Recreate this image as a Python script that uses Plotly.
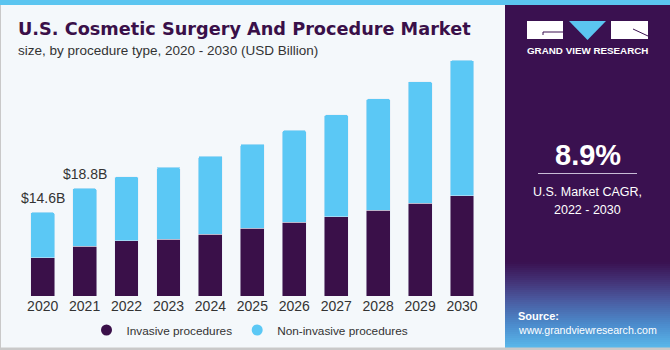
import plotly.graph_objects as go

years = ["2020", "2021", "2022", "2023", "2024", "2025", "2026", "2027", "2028", "2029", "2030"]
invasive = [6.7, 8.7, 9.6, 9.9, 10.8, 11.8, 12.9, 13.8, 15.0, 16.2, 17.5]
non_invasive = [7.9, 10.1, 11.2, 12.6, 13.6, 14.7, 16.0, 17.8, 19.4, 21.2, 23.6]
total_labels = {"2020": "$14.6B", "2021": "$18.8B"}

DARK = "#3a1049"
LIGHT = "#5bc8f5"
BG = "#f4f8fb"
W, H = 670, 350

def px(x):
    return x / W

def py(y):
    return 1 - y / H

fig = go.Figure()
fig.add_trace(go.Bar(x=years, y=invasive, name="Invasive procedures",
                     marker=dict(color=DARK), showlegend=False))
fig.add_trace(go.Bar(x=years, y=non_invasive, name="Non-invasive procedures",
                     marker=dict(color=LIGHT), showlegend=False))
# legend markers (circles)
fig.add_trace(go.Scatter(x=[years[0]], y=[None], mode="markers", name="Invasive procedures",
                         marker=dict(color=DARK, size=11, symbol="circle")))
fig.add_trace(go.Scatter(x=[years[0]], y=[None], mode="markers", name="Non-invasive procedures",
                         marker=dict(color=LIGHT, size=11, symbol="circle")))

annotations = []
for yr, lab in total_labels.items():
    i = years.index(yr)
    annotations.append(dict(x=i, y=invasive[i] + non_invasive[i], text=lab, showarrow=False,
                            yshift=14, font=dict(size=14, color="#333333", family="Liberation Sans")))

annotations += [
    dict(x=px(16), y=py(29), xref="paper", yref="paper", xanchor="left", yanchor="middle",
         text="<b>U.S. Cosmetic Surgery And Procedure Market</b>", showarrow=False,
         font=dict(size=17.7, color=DARK, family="DejaVu Sans")),
    dict(x=px(16), y=py(51), xref="paper", yref="paper", xanchor="left", yanchor="middle",
         text="size, by procedure type, 2020 - 2030 (USD Billion)", showarrow=False,
         font=dict(size=13.5, color="#333333", family="Liberation Sans")),
    dict(x=px(587.5), y=py(51), xref="paper", yref="paper", xanchor="center", yanchor="middle",
         text="<b>GRAND VIEW RESEARCH</b>", showarrow=False,
         font=dict(size=9.8, color="white", family="Liberation Sans")),
    dict(x=px(587.5), y=py(155), xref="paper", yref="paper", xanchor="center", yanchor="middle",
         text="<b>8.9%</b>", showarrow=False,
         font=dict(size=29, color="white", family="Liberation Sans")),
    dict(x=px(587.5), y=py(192), xref="paper", yref="paper", xanchor="center", yanchor="middle",
         text="U.S. Market CAGR,", showarrow=False,
         font=dict(size=12.5, color="white", family="Liberation Sans")),
    dict(x=px(587.5), y=py(210), xref="paper", yref="paper", xanchor="center", yanchor="middle",
         text="2022 - 2030", showarrow=False,
         font=dict(size=12.5, color="white", family="Liberation Sans")),
    dict(x=px(516), y=py(316), xref="paper", yref="paper", xanchor="left", yanchor="middle",
         text="<b>Source:</b>", showarrow=False,
         font=dict(size=11, color="white", family="Liberation Sans")),
    dict(x=px(516), y=py(330), xref="paper", yref="paper", xanchor="left", yanchor="middle",
         text="www.grandviewresearch.com", showarrow=False,
         font=dict(size=10.6, color="white", family="Liberation Sans")),
]

shapes = []
# right panel
shapes.append(dict(type="rect", xref="paper", yref="paper", x0=px(505), x1=1, y0=py(348), y1=py(0),
                   fillcolor="#3a1150", line=dict(width=0), layer="below"))
# gradient at bottom of right panel
stops = [(262, (58, 17, 80)), (282, (68, 52, 120)), (300, (74, 90, 160)),
         (325, (76, 140, 205)), (348, (90, 185, 235))]
n = 43
for k in range(n):
    y0 = 262 + k * (348 - 262) / n
    y1 = 262 + (k + 1) * (348 - 262) / n
    ym = (y0 + y1) / 2
    for j in range(len(stops) - 1):
        if stops[j][0] <= ym <= stops[j + 1][0]:
            t = (ym - stops[j][0]) / (stops[j + 1][0] - stops[j][0])
            c = tuple(int(stops[j][1][m] + t * (stops[j + 1][1][m] - stops[j][1][m])) for m in range(3))
            break
    shapes.append(dict(type="rect", xref="paper", yref="paper", x0=px(505), x1=1,
                       y0=py(y1 + 0.3), y1=py(y0), fillcolor="rgb(%d,%d,%d)" % c,
                       line=dict(width=0), layer="below"))
# top stripe
shapes.append(dict(type="rect", xref="paper", yref="paper", x0=0, x1=1, y0=py(5), y1=1,
                   fillcolor="#5bc5f0", line=dict(width=0), layer="below"))
# borders
shapes.append(dict(type="line", xref="paper", yref="paper", x0=px(0.5), x1=px(0.5), y0=0, y1=py(5),
                   line=dict(color="#c9c9c9", width=1)))
shapes.append(dict(type="rect", xref="paper", yref="paper", x0=0, x1=1, y0=0, y1=py(347.5),
                   fillcolor="#c9c9c9", line=dict(width=0)))
# logo
shapes.append(dict(type="rect", xref="paper", yref="paper", x0=px(527), x1=px(563), y0=py(39), y1=py(21),
                   fillcolor="white", line=dict(width=0)))
shapes.append(dict(type="line", xref="paper", yref="paper", x0=px(543), x1=px(563), y0=py(32), y1=py(32),
                   line=dict(color="#3a1150", width=1)))
shapes.append(dict(type="line", xref="paper", yref="paper", x0=px(543), x1=px(543), y0=py(32), y1=py(35),
                   line=dict(color="#3a1150", width=1)))
shapes.append(dict(type="path", xref="paper", yref="paper",
                   path="M %f %f L %f %f L %f %f Z" % (px(569), py(21), px(606), py(21), px(587.5), py(40)),
                   fillcolor="#5bc5f0", line=dict(width=0)))
shapes.append(dict(type="rect", xref="paper", yref="paper", x0=px(611), x1=px(648), y0=py(39), y1=py(21),
                   fillcolor="white", line=dict(width=0)))
shapes.append(dict(type="line", xref="paper", yref="paper", x0=px(633), x1=px(648), y0=py(29), y1=py(36),
                   line=dict(color="#3a1150", width=1)))
# divider line under 8.9%
shapes.append(dict(type="line", xref="paper", yref="paper", x0=px(538), x1=px(637), y0=py(173.5), y1=py(173.5),
                   line=dict(color="#c8bcd6", width=1)))

fig.update_layout(
    width=W, height=H,
    margin=dict(l=0, r=0, t=0, b=0, autoexpand=False),
    paper_bgcolor=BG, plot_bgcolor="rgba(0,0,0,0)",
    barmode="stack", bargap=0.43,
    barcornerradius=2,
    font=dict(family="Liberation Sans", color="#333333"),
    xaxis=dict(type="category", domain=[px(21.7), px(483)], range=[-0.5, len(years) - 0.5],
               showgrid=False, showline=False, zeroline=False,
               tickfont=dict(size=14, color="#333333"), ticks="", fixedrange=True, automargin=False),
    yaxis=dict(domain=[py(296), py(38)], range=[0, 45], visible=False, fixedrange=True, automargin=False),
    legend=dict(orientation="h", x=px(250), y=py(330), xanchor="center", yanchor="middle",
                traceorder="normal",
                font=dict(size=11.8, color="#333333"), bgcolor="rgba(0,0,0,0)",
                itemwidth=30, tracegroupgap=0),
    annotations=annotations,
    shapes=shapes,
)

fig.write_html("out.html")
